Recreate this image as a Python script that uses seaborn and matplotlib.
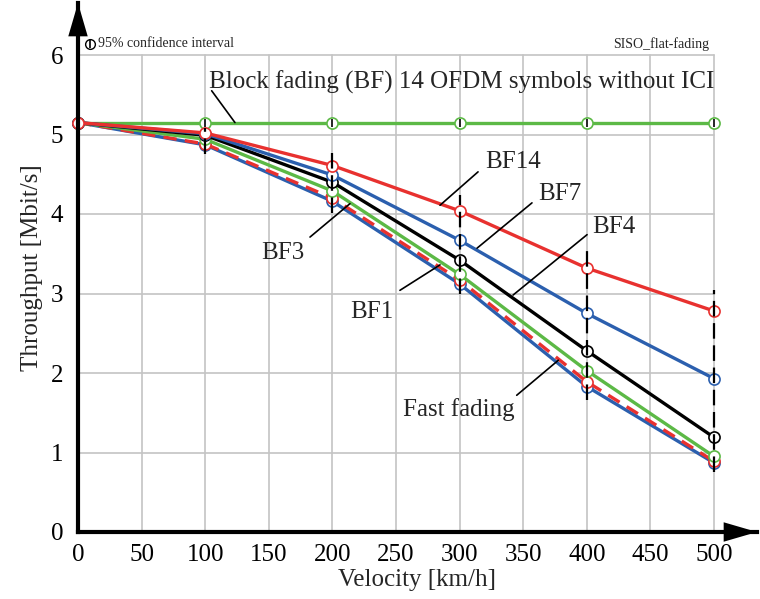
import matplotlib
matplotlib.use("Agg")
import matplotlib.pyplot as plt
import seaborn as sns
import pandas as pd

# ---------------- data ----------------
velocity = [0, 100, 200, 300, 400, 500]
bf_no_ici = [5.15, 5.15, 5.15, 5.15, 5.15, 5.15]
bf14 = [5.15, 5.02, 4.61, 4.04, 3.32, 2.78]
bf7 = [5.15, 5.01, 4.49, 3.67, 2.75, 1.93]
bf4 = [5.15, 4.99, 4.40, 3.42, 2.28, 1.19]
bf3 = [5.15, 4.94, 4.29, 3.24, 2.03, 0.95]
fast_fading = [5.15, 4.88, 4.20, 3.17, 1.89, 0.89]
bf1 = [5.15, 4.87, 4.16, 3.12, 1.83, 0.87]

ci_x = [100, 200, 300, 400, 500]
ci_low = [4.76, 4.01, 3.00, 1.66, 0.75]
ci_high = [5.08, 4.77, 4.24, 3.55, 3.04]

x_ticks = [0, 50, 100, 150, 200, 250, 300, 350, 400, 450, 500]
y_ticks = [0, 1, 2, 3, 4, 5, 6]

RED = "#e8312f"
BLUE = "#2b5fae"
GREEN = "#5cb946"

series = [
    ("BF no ICI", bf_no_ici, GREEN, "-"),
    ("BF1", bf1, BLUE, "-"),
    ("Fast fading", fast_fading, RED, "--"),
    ("BF3", bf3, GREEN, "-"),
    ("BF4", bf4, "black", "-"),
    ("BF7", bf7, BLUE, "-"),
    ("BF14", bf14, RED, "-"),
]

sns.set_style("white")
plt.rcParams["font.family"] = ["Liberation Serif", "DejaVu Serif"]

fig = plt.figure(figsize=(7.6, 5.99), dpi=100)
W, H = 760, 599
x0px, x1px, y0px, y1px = 78, 757, 532, 3
ax = fig.add_axes([x0px / W, (H - y0px) / H, (x1px - x0px) / W, (y0px - y1px) / H])
xmax = (x1px - x0px) / 1.272
ymax = (y0px - y1px) / 79.5
ax.set_xlim(0, xmax)
ax.set_ylim(0, ymax)

# grid limited to the data box
GRID = "#c4c4c4"
for xt in x_ticks[1:]:
    ax.plot([xt, xt], [0, 6], color=GRID, lw=1.2, zorder=0)
for yt in y_ticks[1:]:
    ax.plot([0, 500], [yt, yt], color=GRID, lw=1.2, zorder=0)

# confidence intervals
for cx, lo, hi in zip(ci_x, ci_low, ci_high):
    ax.plot([cx, cx], [lo, hi], color="black", lw=1.6, ls=(0, (7, 3)), zorder=15)

z = 2
for name, vals, col, ls in series:
    df = pd.DataFrame({"v": velocity, "t": vals})
    sns.lineplot(data=df, x="v", y="t", ax=ax, color=col, lw=2.4,
                 linestyle=ls, marker="o", markersize=8, markerfacecolor="white",
                 markeredgecolor=col, markeredgewidth=1.2, zorder=z,
                 clip_on=False)
    if ls == "--":
        ax.lines[-1].set_dashes([4, 2.5])
    z += 1

# small CI ticks inside markers of the top line and at origin
ax.plot(velocity, bf_no_ici, ls="none", marker="|", ms=6, mew=1.2, color="black",
        zorder=16, clip_on=False)

# axes styling
for s in ["top", "right"]:
    ax.spines[s].set_visible(False)
for s in ["left", "bottom"]:
    ax.spines[s].set_linewidth(3)
    ax.spines[s].set_color("black")
    ax.spines[s].set_zorder(20)
ax.set_xticks(x_ticks)
ax.set_yticks(y_ticks)
ax.tick_params(axis="both", direction="inout", length=11, width=1.6, labelsize=18,
               colors="black")
ax.tick_params(axis="x", pad=3)
ax.tick_params(axis="y", pad=5)
ax.set_xlabel("Velocity [km/h]", fontsize=18, labelpad=2)
ax.set_ylabel("Throughput [Mbit/s]", fontsize=18, labelpad=6)

# arrow heads
ax.annotate("", xy=(1.0, 0), xytext=(0.96, 0), xycoords="axes fraction",
            arrowprops=dict(facecolor="black", edgecolor="black", width=0.1,
                            headwidth=14, headlength=24, lw=0), annotation_clip=False)
ax.annotate("", xy=(0, 1.0), xytext=(0, 0.96), xycoords="axes fraction",
            arrowprops=dict(facecolor="black", edgecolor="black", width=0.1,
                            headwidth=14, headlength=24, lw=0), annotation_clip=False)

# header texts
ax.plot([9.4], [6.14], marker="o", mfc="none", mec="black", ms=7, mew=1.0, clip_on=False)
ax.plot([9.4], [6.14], marker="|", color="black", ms=6, mew=1.2, clip_on=False)
ax.text(16, 6.14, "95% confidence interval", fontsize=10, va="center", ha="left")
ax.text(496, 6.14, "SISO_flat-fading", fontsize=10, va="center", ha="right")

# annotations
def note(text, txy, p0, p1, ha="center"):
    ax.text(txy[0], txy[1], text, fontsize=18, ha=ha, va="center", zorder=20)
    ax.plot([p0[0], p1[0]], [p0[1], p1[1]], color="black", lw=1.2, zorder=20)

note("Block fading (BF) 14 OFDM symbols without ICI", (302, 5.66), (105.1, 5.55), (123.4, 5.15))
note("BF14", (342, 4.66), (314.5, 4.53), (284.6, 4.11))
note("BF7", (379, 4.25), (356.9, 4.14), (313.7, 3.57))
note("BF4", (421, 3.84), (400.2, 3.74), (342.0, 2.98))
note("BF3", (161, 3.51), (182.4, 3.71), (213.8, 4.13))
note("BF1", (231, 2.77), (253.1, 3.04), (284.6, 3.36))
note("Fast fading", (299, 1.54), (344.9, 1.72), (377.6, 2.16))

fig.savefig("out.png", dpi=100)
